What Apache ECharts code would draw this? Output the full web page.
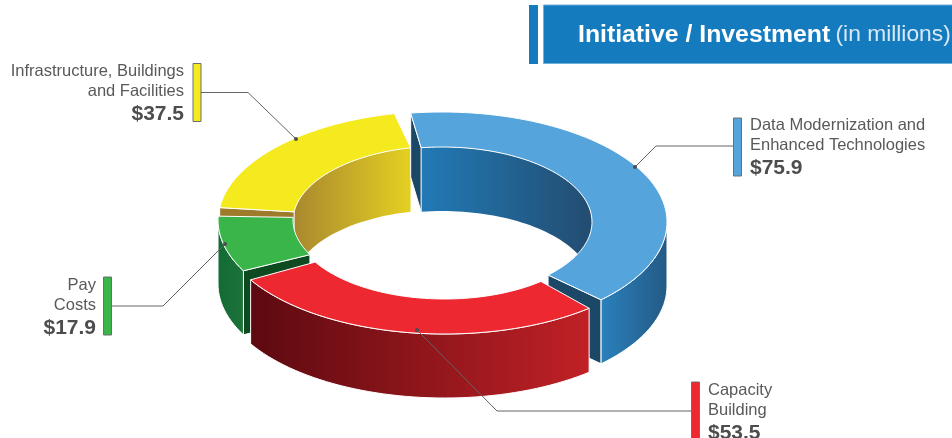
<!DOCTYPE html>
<html>
<head>
<meta charset="utf-8">
<title>Initiative / Investment</title>
<style>
  html, body { margin: 0; padding: 0; background: #fff; }
  #chart { width: 952px; height: 438px; }
</style>
<script src="https://cdn.jsdelivr.net/npm/echarts@6/dist/echarts.min.js"></script>
</head>
<body>
<div id="chart"></div>
<script>
// data
const categories = ['Data Modernization and\nEnhanced Technologies', 'Capacity\nBuilding', 'Pay\nCosts', 'Infrastructure, Buildings\nand Facilities'];
const investments = [75.9, 53.5, 17.9, 37.5];

// ring geometry
const ring = { rx: 225, ry: 110, innerRx: 150, innerRy: 75, depth: 64, firstAngle: -8, step: 2 };
const sliceCenters = [[442, 222], [444.5, 224], [443, 220], [443, 221]];
const gapsAfter = [5, 3, 5, 4.5];
// the artwork is not quite proportional, degrees added to each value's sweep
const sweepTrim = [2.33, 0.35, -3.68, 1.0];
const paintOrder = [1, 3, 2, 0];

const topColors = ['#55a5dc', '#ee2830', '#39b54a', '#f5ea1d'];
const outerWall = [['#2a80bc', '#245a85'], ['#5c0a10', '#c02126'], ['#146a34', '#1b7339'], ['#888', '#888']];
const innerWall = [['#217ab6', '#234c70'], ['#000', '#000'], ['#000', '#000'], ['#a9882e', '#e4d022']];
const cutColors = ['#1b4866', '#5c0a10', '#0e4a20', '#9e7b2a'];

const total = investments.reduce((a, b) => a + b, 0);
const sweepScale = (360 - gapsAfter.reduce((a, b) => a + b, 0)) / total;

const sliceAngles = [];
let cursor = ring.firstAngle;
investments.forEach((v, i) => {
  const end = cursor + v * sweepScale + sweepTrim[i];
  sliceAngles.push([cursor, end]);
  cursor = end + gapsAfter[i];
});

function arc(c, rx, ry, a0, a1, dy) {
  const pts = [];
  const n = Math.max(2, Math.ceil(Math.abs(a1 - a0) / ring.step));
  for (let k = 0; k <= n; k++) {
    const a = (a0 + (a1 - a0) * k / n) * Math.PI / 180;
    pts.push([c[0] + rx * Math.sin(a), c[1] - ry * Math.cos(a) + dy]);
  }
  return pts;
}

function hGradient(colors) {
  return new echarts.graphic.LinearGradient(0, 0, 1, 0, [
    { offset: 0, color: colors[0] },
    { offset: 1, color: colors[1] }
  ]);
}

function poly(points, fill, z2, strokeWidth) {
  return {
    type: 'polygon',
    z2: z2,
    shape: { points: points },
    style: { fill: fill, stroke: '#fff', lineWidth: strokeWidth === undefined ? 1 : strokeWidth, lineJoin: 'round' }
  };
}

function cutFace(c, angle, fill, z2) {
  const o = arc(c, ring.rx, ring.ry, angle, angle, 0)[0];
  const n = arc(c, ring.innerRx, ring.innerRy, angle, angle, 0)[0];
  return poly([o, n, [n[0], n[1] + ring.depth], [o[0], o[1] + ring.depth]], fill, z2);
}

function renderSlice(params) {
  const i = params.dataIndex;
  const c = sliceCenters[i];
  const a0 = sliceAngles[i][0];
  const a1 = sliceAngles[i][1];
  const z = paintOrder[i] * 10 + 1;
  const d = ring.depth;
  const children = [];

  // inner wall, only the back half of the hole faces us
  const shift = a0 > 180 ? -360 : 0;
  const inA0 = Math.max(a0 + shift, -90);
  const inA1 = Math.min(a1 + shift, 90);
  if (inA1 > inA0) {
    const top = arc(c, ring.innerRx, ring.innerRy, inA0, inA1, 0);
    const bottom = arc(c, ring.innerRx, ring.innerRy, inA1, inA0, d);
    children.push(poly(top.concat(bottom), hGradient(innerWall[i]), z, 0));
  }

  // cut faces, only the ones turned towards the viewer
  const norm0 = (a0 + 360) % 360;
  const norm1 = (a1 + 360) % 360;
  if (norm0 > 180) children.push(cutFace(c, a0, cutColors[i], z + 1));
  if (norm1 < 180) children.push(cutFace(c, a1, cutColors[i], z + 1));

  // outer wall, front half only
  const outA0 = Math.max(a0, 90);
  const outA1 = Math.min(a1, 270);
  if (outA1 > outA0) {
    const top = arc(c, ring.rx, ring.ry, outA0, outA1, 0);
    const bottom = arc(c, ring.rx, ring.ry, outA1, outA0, d);
    children.push(poly(top.concat(bottom), hGradient(outerWall[i]), z + 2));
  }

  // top face
  const outer = arc(c, ring.rx, ring.ry, a0, a1, 0);
  const inner = arc(c, ring.innerRx, ring.innerRy, a1, a0, 0);
  children.push(poly(outer.concat(inner), topColors[i], z + 3));

  return { type: 'group', children: children };
}

// label blocks and leader lines
const labelBlocks = [
  { x: 750, y: 115, align: 'left', swatch: [733.5, 118, 8, 58], line: [[733, 146], [656, 146], [635, 167]] },
  { x: 708, y: 380, align: 'left', swatch: [691.5, 382, 8, 60], line: [[691, 411], [497, 411], [417, 330]] },
  { x: 96, y: 275, align: 'right', swatch: [103.5, 277, 8, 58], line: [[112, 306], [163, 306], [225, 244]] },
  { x: 184, y: 61, align: 'right', swatch: [193, 63.5, 8, 58], line: [[201, 92.5], [248, 92.5], [296, 139]] }
];

const graphics = [
  { type: 'rect', z: 20, shape: { x: 529, y: 5, width: 9, height: 59 }, style: { fill: '#157bbf' } },
  { type: 'rect', z: 20, shape: { x: 543.5, y: 5, width: 409, height: 58.5 }, style: { fill: '#157bbf', stroke: '#6db0dc', lineWidth: 1 } },
  {
    type: 'text', z: 21, x: 578, y: 35,
    style: {
      text: '{b|Initiative / Investment} {n|(in millions)}',
      verticalAlign: 'middle',
      rich: {
        b: { fontFamily: 'Liberation Sans', fontWeight: 'bold', fontSize: 24.8, fill: '#fff' },
        n: { fontFamily: 'Liberation Sans', fontSize: 22.8, fill: '#d8e9f5', padding: [0, 0, 0, 2] }
      }
    }
  }
];

labelBlocks.forEach((b, i) => {
  graphics.push({
    type: 'rect', z: 20,
    shape: { x: b.swatch[0], y: b.swatch[1], width: b.swatch[2], height: b.swatch[3] },
    style: { fill: topColors[i], stroke: '#6d6e71', lineWidth: 1 }
  });
  graphics.push({
    type: 'polyline', z: 20,
    shape: { points: b.line },
    style: { fill: null, stroke: '#636466', lineWidth: 1 }
  });
  graphics.push({
    type: 'circle', z: 20,
    shape: { cx: b.line[2][0], cy: b.line[2][1], r: 2 },
    style: { fill: '#4d4d4f' }
  });
  graphics.push({
    type: 'text', z: 20, x: b.x, y: b.y,
    style: {
      text: categories[i].split('\n').map(s => '{n|' + s + '}').join('\n') + '\n{v|$' + investments[i].toFixed(1) + '}',
      align: b.align,
      textAlign: b.align,
      rich: {
        n: { fontFamily: 'Liberation Sans', fontSize: 16.5, lineHeight: 20, fill: '#58595b', align: b.align },
        v: { fontFamily: 'Liberation Sans', fontSize: 21, fontWeight: 'bold', lineHeight: 26, fill: '#4d4d4f', align: b.align }
      }
    }
  });
});

const chart = echarts.init(document.getElementById('chart'), null, { renderer: 'canvas' });
chart.setOption({
  animation: false,
  backgroundColor: '#fff',
  graphic: graphics,
  series: [{
    type: 'custom',
    coordinateSystem: 'none',
    renderItem: renderSlice,
    data: investments.map((v, i) => ({ name: categories[i], value: [i, v] })),
    silent: true
  }]
});
window.addEventListener('resize', () => chart.resize());
</script>
</body>
</html>
